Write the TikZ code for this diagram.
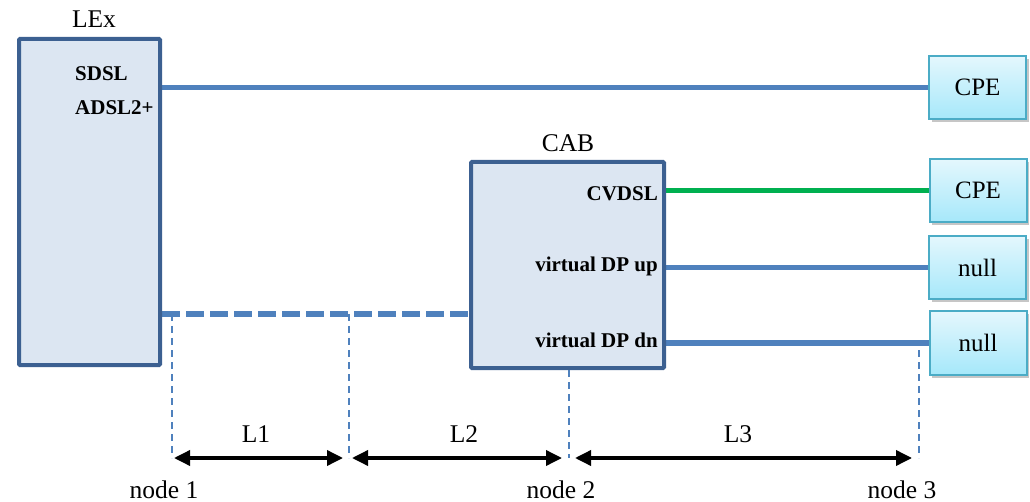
\documentclass[tikz,border=0pt]{standalone}
\usepackage{fontspec}
\setmainfont{Liberation Serif}
\usetikzlibrary{arrows.meta,shadows,backgrounds}
\definecolor{boxfill}{RGB}{220,230,242}
\definecolor{boxline}{RGB}{60,96,145}
\definecolor{linkblue}{RGB}{79,129,189}
\definecolor{linkgreen}{RGB}{0,176,80}
\definecolor{cpeline}{RGB}{75,172,198}
\definecolor{cpetop}{RGB}{228,247,253}
\definecolor{cpebot}{RGB}{166,232,250}
\begin{document}
\begin{tikzpicture}[x=1pt,y=-1pt,
 bigbox/.style={draw=boxline, fill=boxfill, line width=4pt, inner sep=0pt, rounded corners=1pt},
 endbox/.style={draw=cpeline, line width=2pt, top color=cpetop, bottom color=cpebot, minimum width=97pt, minimum height=63pt, inner sep=0pt, drop shadow={shadow xshift=2.5pt,shadow yshift=-3pt,opacity=0.45}, font=\fontsize{25}{30}\selectfont},
 title/.style={font=\fontsize{25.5}{30}\selectfont, anchor=base, inner sep=0pt},
 port/.style={font=\bfseries\fontsize{21}{25}\selectfont, inner sep=0pt},
 link/.style={draw=linkblue, line width=5.5pt},
 guide/.style={draw=linkblue, line width=1.6pt, dash pattern=on 7pt off 5pt},
 dim/.style={line width=3.5pt, {Triangle[length=16pt,width=15pt]}-{Triangle[length=16pt,width=15pt]}}
]
\useasboundingbox (0,0) rectangle (1030,502);

% boxes
\node[bigbox, minimum width=141pt, minimum height=326pt] (lex) at (89.5,202) {};
\node[title] (lexlabel) at (94,28) {LEx};
\node[port, anchor=base west] (sdsl) at (75,81) {SDSL};
\node[port, anchor=base west] (adsl) at (75,115) {ADSL2+};

\node[bigbox, minimum width=193pt, minimum height=206pt] (cab) at (567.5,265) {};
\node[title] (cablabel) at (568,152) {CAB};
\node[port, anchor=base east] (cvdsl) at (658,201) {CVDSL};
\node[port, anchor=base east] (dpup) at (658,272) {virtual DP up};
\node[port, anchor=base east] (dpdn) at (658,347) {virtual DP dn};

\node[endbox] (cpe1) at (977.5,87.5) {CPE};
\node[endbox] (cpe2) at (978,190.5) {CPE};
\node[endbox] (null1) at (977.5,267.5) {null};
\node[endbox] (null2) at (978,343) {null};

% links
\coordinate (dl) at (0,314);
\begin{scope}[on background layer]
\draw[link] (lex.east |- cpe1.west) -- (cpe1.west);
\draw[link, draw=linkgreen] (cab.east |- cpe2.west) -- (cpe2.west);
\draw[link] (cab.east |- null1.west) -- (null1.west);
\draw[link] (cab.east |- null2.west) -- (null2.west);
\draw[link, dash pattern=on 18pt off 6pt] (lex.east |- dl) -- (cab.west |- dl);
\end{scope}

% guides
\coordinate (n1) at (172,458);
\coordinate (m) at (349,458);
\coordinate (n2) at (569,458);
\coordinate (n3) at (919,458);
\coordinate (g3) at (919,350);
\draw[guide] (n1 |- dl) -- (n1);
\draw[guide] (m |- dl) -- (m);
\draw[guide] (cab.south -| n2) -- (n2);
\draw[guide] (g3) -- (n3);

% dimensions
\draw[dim] ([xshift=2pt]n1) -- ([xshift=-6pt]m);
\draw[dim] ([xshift=3pt]m) -- ([xshift=-7pt]n2);
\draw[dim] ([xshift=6pt]n2) -- ([xshift=-7pt]n3);
\node[title] (l1) at (256,442) {L1};
\node[title] (l2) at (464,442) {L2};
\node[title] (l3) at (738,442) {L3};

\node[title] (node1) at (164,498) {node 1};
\node[title] (node2) at (561,498) {node 2};
\node[title] (node3) at (902,498) {node 3};
\end{tikzpicture}
\end{document}
